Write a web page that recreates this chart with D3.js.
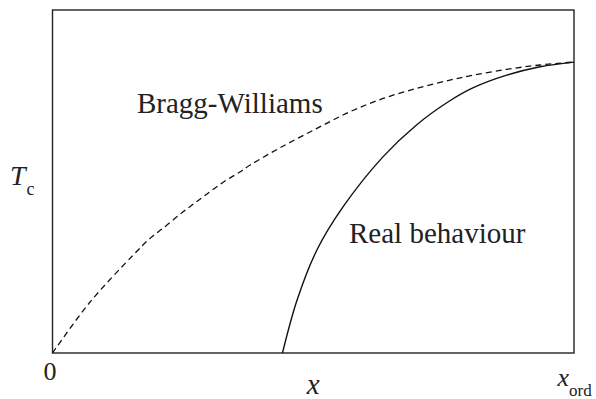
<!DOCTYPE html>
<html>
<head>
<meta charset="utf-8">
<script src="https://cdn.jsdelivr.net/npm/d3@7"></script>
<style>
  html, body { margin: 0; padding: 0; background: #fff; }
  svg text { font-family: "Liberation Serif", "Times New Roman", Times, "DejaVu Serif", serif; }
</style>
</head>
<body>
<svg id="chart" width="596" height="399"></svg>
<script>
// Composition x (0 .. x_ord) against ordering temperature Tc (1 = Tc at x_ord)
const braggX = [0, 0.071, 0.155, 0.187, 0.212, 0.251, 0.289, 0.328, 0.360, 0.379, 0.440, 0.507, 0.570, 0.634, 0.699, 0.762, 0.807, 0.871, 0.935, 1];
const braggT = [0, 0.173, 0.337, 0.394, 0.429, 0.486, 0.537, 0.588, 0.623, 0.646, 0.709, 0.772, 0.829, 0.875, 0.910, 0.938, 0.955, 0.975, 0.990, 1];

const realX = [0.441, 0.469, 0.507, 0.557, 0.634, 0.698, 0.762, 0.807, 0.871, 0.935, 1];
const realT = [0, 0.182, 0.354, 0.502, 0.675, 0.784, 0.867, 0.912, 0.955, 0.984, 1];

const xTicks = [0, 1];
const xTickLabels = ["0", "x|ord"];
const curveLabels = ["Bragg-Williams", "Real behaviour"];

const svg = d3.select("#chart");
const plotLeft = 52.5, plotRight = 574, plotTop = 10, plotBottom = 353;

const x = d3.scaleLinear().domain([0, 1]).range([plotLeft, plotRight]);
const y = d3.scaleLinear().domain([0, 1.179]).range([plotBottom, plotTop]);

// frame
svg.append("rect")
  .attr("x", plotLeft).attr("y", plotTop)
  .attr("width", plotRight - plotLeft).attr("height", plotBottom - plotTop)
  .attr("fill", "none").attr("stroke", "#222").attr("stroke-width", 1.4);

const line = d3.line()
  .x(d => x(d[0])).y(d => y(d[1]))
  .curve(d3.curveCatmullRom.alpha(0.5));

svg.append("path")
  .datum(d3.zip(braggX, braggT))
  .attr("d", line)
  .attr("fill", "none").attr("stroke", "#111")
  .attr("stroke-width", 1.3).attr("stroke-dasharray", "6,4");

svg.append("path")
  .datum(d3.zip(realX, realT))
  .attr("d", line)
  .attr("fill", "none").attr("stroke", "#111")
  .attr("stroke-width", 1.4);

// x axis: only the two end labels
const xAxis = svg.append("g")
  .attr("transform", `translate(0,${plotBottom})`)
  .call(d3.axisBottom(x).tickValues(xTicks).tickSize(0).tickFormat(""));
xAxis.select(".domain").remove();
xAxis.selectAll(".tick").each(function (d, i) {
  const [main, sub] = xTickLabels[i].split("|");
  const t = d3.select(this).append("text")
    .attr("fill", "#222").attr("font-size", 26);
  if (sub) {
    t.attr("x", -17).attr("y", 33).attr("text-anchor", "start");
    t.append("tspan").attr("font-style", "italic").text(main);
    t.append("tspan").attr("font-size", 17).attr("dy", 10).text(sub);
  } else {
    t.attr("x", -3).attr("y", 27).attr("text-anchor", "middle").text(main);
  }
});

// axis titles
svg.append("text")
  .attr("x", (plotLeft + plotRight) / 2).attr("y", 394)
  .attr("text-anchor", "middle").attr("font-size", 29)
  .attr("font-style", "italic").attr("fill", "#222").text("x");

const tc = svg.append("text")
  .attr("x", 10).attr("y", 185)
  .attr("font-size", 28).attr("fill", "#222");
tc.append("tspan").attr("font-style", "italic").text("T");
tc.append("tspan").attr("font-size", 18).attr("dy", 10).attr("dx", 1).text("c");

// curve labels
svg.append("text")
  .attr("x", 137).attr("y", 113)
  .attr("font-size", 29).attr("fill", "#222").text(curveLabels[0]);
svg.append("text")
  .attr("x", 349).attr("y", 243)
  .attr("font-size", 29).attr("fill", "#222").text(curveLabels[1]);
</script>
</body>
</html>
